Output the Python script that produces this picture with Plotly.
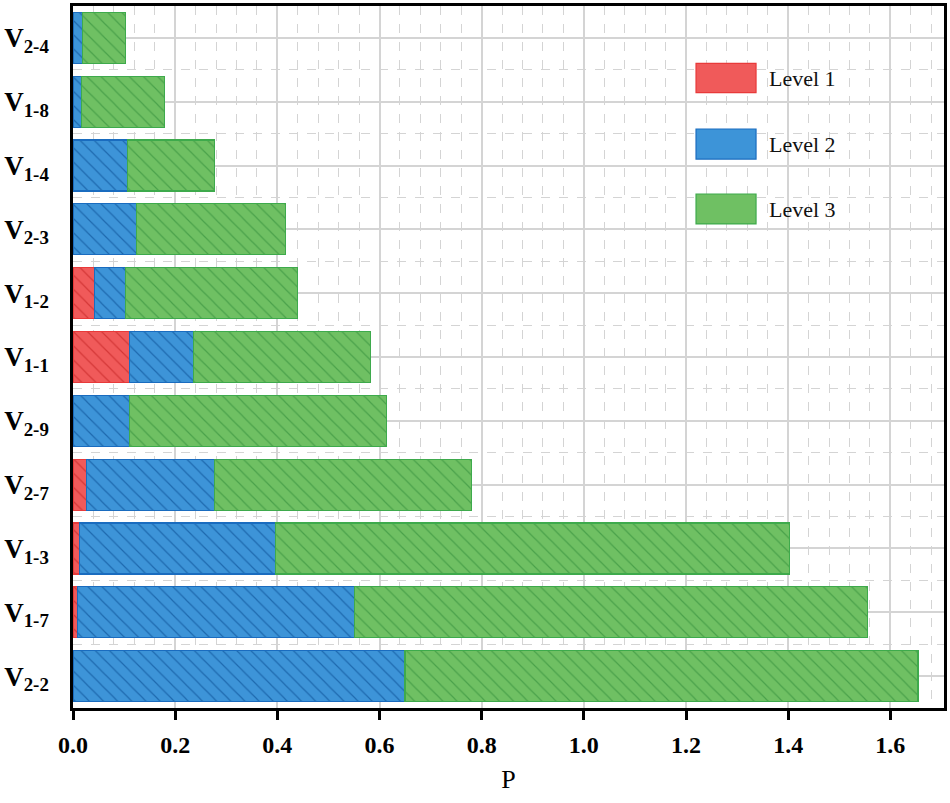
import plotly.graph_objects as go

categories = ["V<sub>2-2</sub>", "V<sub>1-7</sub>", "V<sub>1-3</sub>", "V<sub>2-7</sub>", "V<sub>2-9</sub>",
              "V<sub>1-1</sub>", "V<sub>1-2</sub>", "V<sub>2-3</sub>", "V<sub>1-4</sub>", "V<sub>1-8</sub>",
              "V<sub>2-4</sub>"]
level1 = [None, 0.009, 0.013, 0.027, None, 0.110, 0.042, None, None, None, None]
level2 = [0.650, 0.542, 0.384, 0.250, 0.110, 0.126, 0.061, 0.125, 0.107, 0.017, 0.019]
level3 = [1.004, 1.004, 1.005, 0.503, 0.503, 0.346, 0.337, 0.291, 0.170, 0.162, 0.084]
x_ticks = [0.0, 0.2, 0.4, 0.6, 0.8, 1.0, 1.2, 1.4, 1.6]
series_names = ["Level 1", "Level 2", "Level 3"]

positions = list(range(len(categories)))
SERIF = "Liberation Serif, Times New Roman, serif"

styles = [
    dict(fill="#f05a5a", line="#e83a3a", hatch="#c82828"),
    dict(fill="#3d94d8", line="#1a6cbf", hatch="#10579c"),
    dict(fill="#6fc063", line="#3eaa4c", hatch="#3a9440"),
]

fig = go.Figure()
for name, vals, st in zip(series_names, [level1, level2, level3], styles):
    fig.add_trace(go.Bar(
        y=positions, x=vals, name=name, orientation="h", width=0.8,
        marker=dict(color=st["fill"], line=dict(color=st["line"], width=1.2),
                    pattern=dict(shape="\\", fillmode="overlay", fgcolor=st["hatch"],
                                 fgopacity=0.7, size=10, solidity=0.12)),
        showlegend=False,
    ))

# custom legend (paper coordinates)
legend_rows = [(0.8765, 0.9184, 0.8974), (0.782, 0.8248, 0.8034), (0.6895, 0.7322, 0.7108)]
for name, st, (y0, y1, yc) in zip(series_names, styles, legend_rows):
    fig.add_shape(type="rect", xref="paper", yref="paper", x0=0.7153, x1=0.7842, y0=y0, y1=y1,
                  fillcolor=st["fill"], line=dict(color=st["line"], width=1.2))
    fig.add_annotation(xref="paper", yref="paper", x=0.797, y=yc, text=name, showarrow=False,
                       xanchor="left", yanchor="middle",
                       font=dict(family=SERIF, size=22, color="#111"))

fig.update_layout(
    width=950, height=803,
    margin=dict(l=73, r=6, t=6, b=95),
    barmode="stack",
    plot_bgcolor="white", paper_bgcolor="white",
    font=dict(family=SERIF, color="black"),
)
fig.update_xaxes(
    range=[0, 1.705], tickvals=x_ticks, ticktext=[f"{v:.1f}" for v in x_ticks],
    tickfont=dict(family=SERIF, size=24, color="black", weight="bold"),
    ticks="outside", ticklen=9, tickwidth=2.5, tickcolor="black", ticklabelstandoff=4,
    showline=True, linecolor="black", linewidth=2.5, mirror=True,
    showgrid=True, gridcolor="#d4d4d4", gridwidth=1.5,
    minor=dict(dtick=0.04, showgrid=True, gridcolor="#d4d4d4", griddash="dash", gridwidth=1, ticks=""),
    title=dict(text="P", font=dict(family=SERIF, size=26, color="black"), standoff=14),
    zeroline=False, automargin=False,
)
fig.update_yaxes(
    range=[-0.5, 10.5], tickvals=positions, ticktext=categories,
    tickfont=dict(family=SERIF, size=27, color="black", weight="bold"),
    ticks="", ticklabelstandoff=16,
    showline=True, linecolor="black", linewidth=2.5, mirror=True,
    showgrid=True, gridcolor="#d4d4d4", gridwidth=1.5,
    minor=dict(dtick=0.5, tick0=0.5, showgrid=True, gridcolor="#d4d4d4", griddash="dash", gridwidth=1, ticks=""),
    zeroline=False, automargin=False,
)

fig.write_html("out.html", config={"displayModeBar": False},
               post_script="document.body.style.margin='0';")
